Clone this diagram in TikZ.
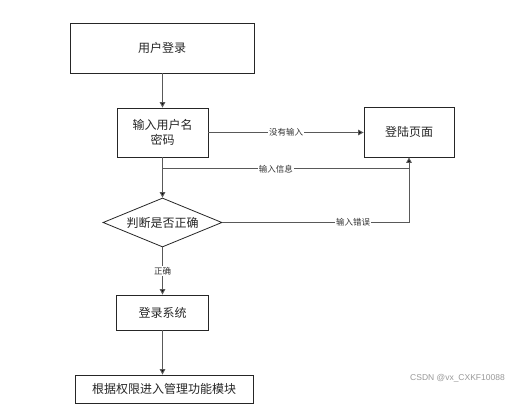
\documentclass[tikz,border=0pt]{standalone}
\usepackage{fontspec}
\newfontfamily\cjk{Noto Sans CJK SC}
\newfontfamily\wmfont{Liberation Sans}
\usetikzlibrary{shapes.geometric,arrows.meta}
\begin{document}
\begin{tikzpicture}[x=1pt,y=-1pt,
  box/.style={draw=black!85,line width=0.8pt,inner sep=0pt,font=\cjk\fontsize{12}{15}\selectfont,text=black!85,align=center},
  dia/.style={draw=black!85,line width=0.8pt,shape=diamond,aspect=2.4,inner sep=0pt,font=\cjk\fontsize{12}{15}\selectfont,text=black!85},
  conn/.style={draw=black!65,line width=1pt},
  arr/.style={conn,-{Triangle[length=5.5pt,width=5.5pt,fill=black]}},
  lbl/.style={fill=white,inner sep=1pt,font=\cjk\fontsize{8.5}{10}\selectfont,text=black!80}]
\useasboundingbox[fill=white] (0,0) rectangle (508,411);
\node[box,minimum width=184pt,minimum height=50pt] (a) at (162,48) {用户登录};
\node[box,minimum width=91pt,minimum height=49pt] (b) at (162.5,132.5) {输入用户名\\密码};
\node[box,minimum width=90pt,minimum height=50pt] (c) at (409,132) {登陆页面};
\node[dia,minimum width=119pt,minimum height=49pt] (d) at (162.5,222.5) {判断是否正确};
\node[box,minimum width=92pt,minimum height=35pt] (e) at (162.5,312.5) {登录系统};
\node[box,minimum width=178pt,minimum height=28pt] (f) at (164,389) {根据权限进入管理功能模块};
\coordinate (j1) at (162.5,169);
\coordinate (j2) at (409,169);
\draw[arr] (b.north |- a.south) -- (b.north);
\draw[arr] (b.east) -- node[lbl,pos=0.5]{没有输入} (b.east -| c.west);
\draw[arr] (b.south) -- (d.north);
\draw[conn] (j1) -- node[lbl,pos=0.46]{输入信息} (j2);
\draw[arr] (d.east) -| node[lbl,pos=0.35]{输入错误} (c.south);
\draw[arr] (d.south) -- node[lbl,pos=0.5]{正确} (e.north);
\draw[arr] (e.south) -- (e.south |- f.north);
\node[font=\wmfont\fontsize{8.5}{10}\selectfont,text=black!40,anchor=east,inner sep=0pt] (wm) at (505,378) {CSDN @vx\_CXKF10088};
\end{tikzpicture}
\end{document}
